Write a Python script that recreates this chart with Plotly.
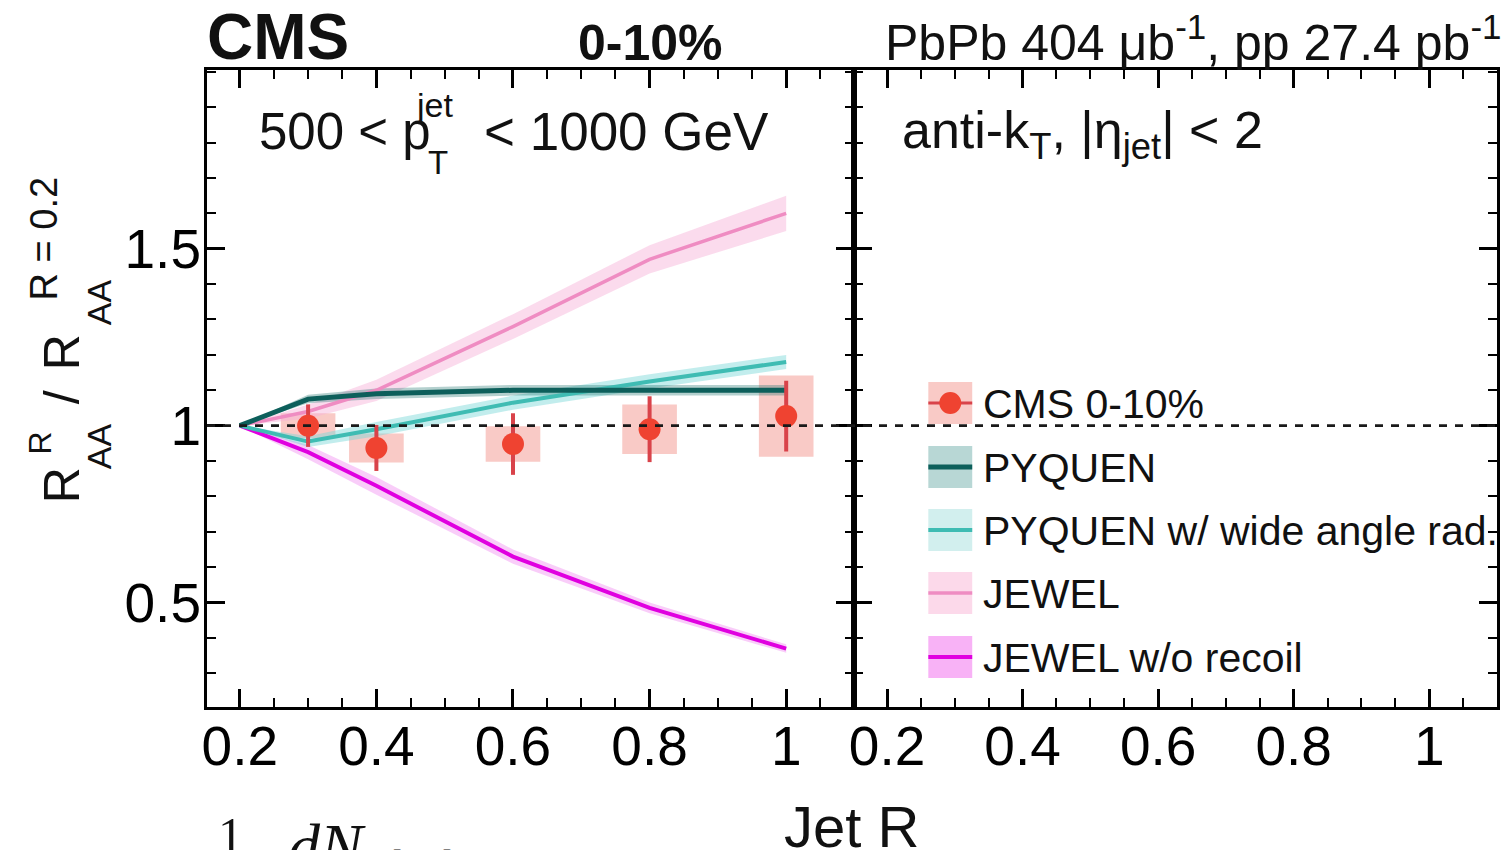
import plotly.graph_objects as go

# ---- measured ratio R_AA(R) / R_AA(R=0.2), 0-10% centrality ----
r_data = [0.3, 0.4, 0.6, 0.8, 1.0]
cms_ratio = [1.0, 0.937, 0.948, 0.99, 1.027]
cms_stat = [0.06, 0.065, 0.087, 0.093, 0.10]
cms_syst = [0.035, 0.041, 0.05, 0.07, 0.115]
syst_halfwidth = 0.04

# ---- model predictions ----
r_model = [0.2, 0.3, 0.4, 0.6, 0.8, 1.0]
pyquen = [1.0, 1.075, 1.09, 1.10, 1.10, 1.10]
pyquen_unc = [0.0, 0.012, 0.015, 0.015, 0.015, 0.015]
pyquen_wide = [1.0, 0.955, 0.99, 1.065, 1.125, 1.18]
pyquen_wide_unc = [0.0, 0.015, 0.02, 0.02, 0.02, 0.02]
jewel = [1.0, 1.04, 1.10, 1.28, 1.47, 1.60]
jewel_unc = [0.0, 0.02, 0.03, 0.035, 0.04, 0.05]
jewel_norecoil = [1.0, 0.925, 0.83, 0.63, 0.485, 0.37]
jewel_norecoil_unc = [0.0, 0.02, 0.025, 0.02, 0.015, 0.012]

x_ticks = [0.2, 0.4, 0.6, 0.8, 1.0]
x_ticktext = ["0.2", "0.4", "0.6", "0.8", "1"]
y_ticks = [0.5, 1.0, 1.5]
y_ticktext = ["0.5", "1", "1.5"]

legend_labels = ["CMS 0-10%", "PYQUEN", "PYQUEN w/ wide angle rad.",
                 "JEWEL", "JEWEL w/o recoil"]

# ---- styles ----
FONT = "Liberation Sans, Arial, sans-serif"
SERIF = "Liberation Serif, serif"
MARKER_RED = "#ef4331"
STAT_RED = "#d9434a"
SYST_FILL = "#f9cac6"
models = [
    # values, unc, line colour, band colour, line width
    (jewel, jewel_unc, "#ef8cc2", "rgba(247,175,215,0.45)", 3.5),
    (jewel_norecoil, jewel_norecoil_unc, "#e000e0", "rgba(240,130,240,0.40)", 4),
    (pyquen_wide, pyquen_wide_unc, "#3fbcb3", "rgba(120,215,215,0.45)", 4),
    (pyquen, pyquen_unc, "#0d5f5b", "rgba(40,120,115,0.35)", 5),
]

W, H = 1508, 850
ML, MR, MT, MB = 207, 8, 70, 143
PW, PH = W - ML - MR, H - MT - MB
split = 649 / PW


def px(x):
    return (x - ML) / PW


def py(y):
    return (H - MB - y) / PH


fig = go.Figure()

# systematic uncertainty boxes
fig.add_trace(go.Bar(
    x=r_data,
    y=[2 * s for s in cms_syst],
    base=[v - s for v, s in zip(cms_ratio, cms_syst)],
    width=2 * syst_halfwidth,
    marker=dict(color=SYST_FILL, line_width=0),
    showlegend=False, hoverinfo="skip",
))

# model bands
for vals, unc, lc, bc, lw in models:
    upper = [v + u for v, u in zip(vals, unc)]
    lower = [v - u for v, u in zip(vals, unc)]
    fig.add_trace(go.Scatter(
        x=r_model + r_model[::-1], y=upper + lower[::-1],
        fill="toself", fillcolor=bc, line=dict(width=0), mode="lines",
        showlegend=False, hoverinfo="skip",
    ))

# model central lines
for vals, unc, lc, bc, lw in models:
    fig.add_trace(go.Scatter(
        x=r_model, y=vals, mode="lines", line=dict(color=lc, width=lw),
        showlegend=False,
    ))

# data points with statistical errors
fig.add_trace(go.Scatter(
    x=r_data, y=cms_ratio, mode="markers",
    marker=dict(color=MARKER_RED, size=22),
    error_y=dict(type="data", array=cms_stat, color=STAT_RED, thickness=4, width=0),
    showlegend=False,
))

# empty right-hand panel holder
fig.add_trace(go.Scatter(x=[None], y=[None], xaxis="x2", yaxis="y2", showlegend=False))

# dashed unity line across both panels
fig.add_shape(type="line", xref="paper", yref="y", x0=0, x1=1, y0=1, y1=1,
              line=dict(color="#1a1a1a", width=2.8, dash="8px,8px"), layer="above")

axis_common = dict(
    showline=True, linecolor="black", linewidth=3, mirror="ticks",
    ticks="inside", ticklen=18, tickwidth=2.5, tickcolor="black",
    showgrid=False, zeroline=False,
    tickfont=dict(family=FONT, size=55, color="black"),
)
minor_x = dict(ticks="inside", ticklen=9, tickwidth=2, tickcolor="black",
               tickmode="linear", tick0=0, dtick=0.05, showgrid=False)
minor_y = dict(ticks="inside", ticklen=9, tickwidth=2, tickcolor="black",
               tickmode="linear", tick0=0, dtick=0.1, showgrid=False)

xr = [0.152, 1.1]
yr = [0.205, 2.005]

fig.update_layout(
    width=W, height=H,
    margin=dict(l=ML, r=MR, t=MT, b=MB),
    paper_bgcolor="white", plot_bgcolor="white",
    barmode="overlay",
    showlegend=False,
    font=dict(family=FONT, color="black"),
    xaxis=dict(domain=[0, split], range=xr, anchor="y", tickmode="array",
               tickvals=x_ticks, ticktext=x_ticktext, minor=minor_x,
               ticklabelstandoff=-11, **axis_common),
    yaxis=dict(domain=[0, 1], range=yr, anchor="x", tickmode="array",
               tickvals=y_ticks, ticktext=y_ticktext, minor=minor_y,
               ticklabelstandoff=-8, **axis_common),
    xaxis2=dict(domain=[split, 1], range=xr, anchor="y2", tickmode="array",
                tickvals=x_ticks, ticktext=x_ticktext, minor=minor_x,
                ticklabelstandoff=-11, **axis_common),
    yaxis2=dict(domain=[0, 1], range=yr, anchor="x2", tickmode="array",
                tickvals=y_ticks, showticklabels=False, minor=minor_y, **axis_common),
)

annotations = []


def text(x, y, s, size, xanchor="left", yanchor="middle", angle=0, bold=False,
         family=FONT, color="#111111"):
    if bold:
        s = "<b>" + s + "</b>"
    annotations.append(dict(
        x=px(x), y=py(y), xref="paper", yref="paper", text=s, showarrow=False,
        xanchor=xanchor, yanchor=yanchor, textangle=angle,
        font=dict(family=family, size=size, color=color),
    ))


# header
text(205, 37, "CMS", 64, bold=True)
text(652, 43, "0-10%", 50, xanchor="center", bold=True)
text(1507, 39, "PbPb 404 μb<sup>-1</sup>, pp 27.4 pb<sup>-1</sup>", 50, xanchor="right")

# selection labels
text(257, 132, "500 < p", 51)
text(414, 105, "jet", 34)
text(427, 163, "T", 33)
text(483, 132, "< 1000 GeV", 53)
text(902, 134, "anti-k<sub>T</sub>, |η<sub>jet</sub>| < 2", 52)

# x-axis title
text(853, 826, "Jet R", 58, xanchor="center")

# y-axis title with stacked indices
text(62, 485, "R", 50, xanchor="center", angle=-90)
text(40, 443, "R", 32, xanchor="center", angle=-90)
text(99, 446, "AA", 34, xanchor="center", angle=-90)
text(62, 397, "/", 50, xanchor="center", angle=-90)
text(62, 352, "R", 50, xanchor="center", angle=-90)
text(99, 302, "AA", 34, xanchor="center", angle=-90)
text(44, 238, "R = 0.2", 38, xanchor="center", angle=-90)

# fragment of text below the figure
text(216, 835, "1", 50, family=SERIF)
text(286, 851, "<i>dN</i><sub><i>PbPb</i></sub>", 64, family=SERIF)

# legend
rows = [403, 467, 530, 593, 657]
box_x0, box_x1 = 930, 974
box_fill = [SYST_FILL, "#b8d7d5", "#d2efee", "#fcd9ea", "#f8b2f6"]
line_col = [STAT_RED, "#0d5f5b", "#3fbcb3", "#ef8cc2", "#e000e0"]
line_w = [3, 5, 4, 3.5, 4]
shapes = []
for i, yc in enumerate(rows):
    shapes.append(dict(type="rect", xref="paper", yref="paper",
                       x0=px(box_x0), x1=px(box_x1), y0=py(yc + 21), y1=py(yc - 21),
                       fillcolor=box_fill[i], line=dict(width=0), layer="above"))
    shapes.append(dict(type="line", xref="paper", yref="paper",
                       x0=px(box_x0), x1=px(box_x1), y0=py(yc), y1=py(yc),
                       line=dict(color=line_col[i], width=line_w[i]), layer="above"))
    text(983, yc + 1, legend_labels[i], 41)
shapes.append(dict(type="circle", xref="paper", yref="paper",
                   x0=px(952 - 11), x1=px(952 + 11), y0=py(rows[0] + 11), y1=py(rows[0] - 11),
                   fillcolor=MARKER_RED, line=dict(width=0), layer="above"))

fig.update_layout(annotations=annotations)
for s in shapes:
    fig.add_shape(**s)

fig.write_html("out.html")
